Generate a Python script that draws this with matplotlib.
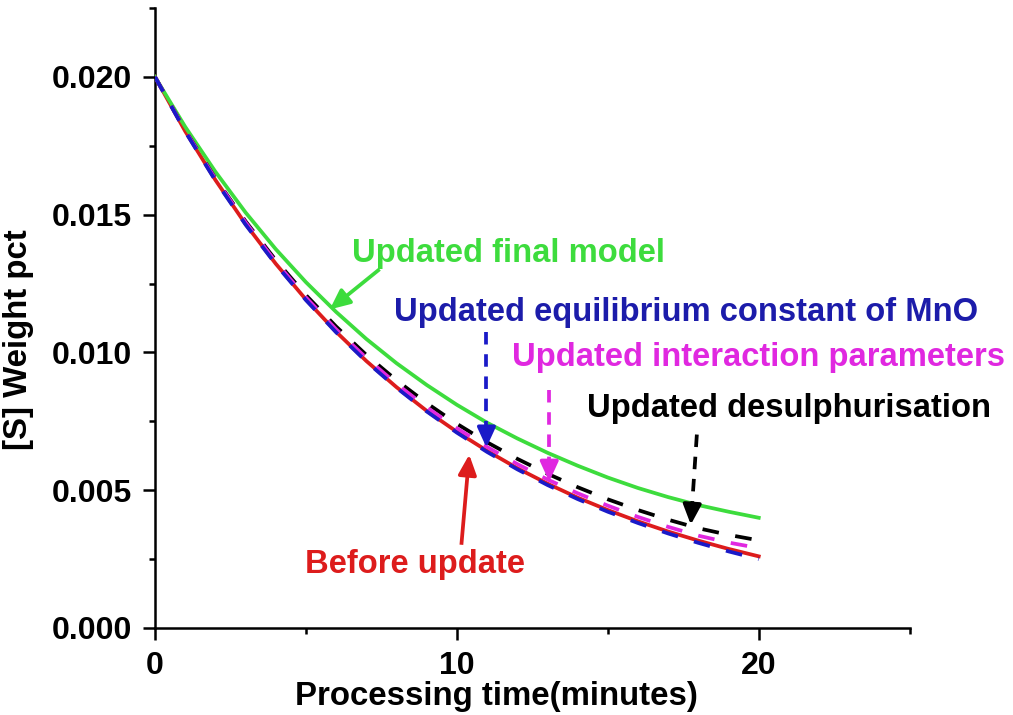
import matplotlib
matplotlib.use("Agg")
import matplotlib.pyplot as plt
from matplotlib.ticker import MultipleLocator, FormatStrFormatter

# Processing time (minutes)
time_min = [0, 1, 2, 3, 4, 5, 6, 7, 8, 9, 10, 11, 12, 13, 14, 15, 16, 17, 18, 19, 20]

# Sulphur content [S] (weight pct) for each model variant
before_update = [0.02000, 0.01803, 0.01626, 0.01466, 0.01322, 0.01192, 0.01075, 0.00969,
                 0.00874, 0.00788, 0.00712, 0.00643, 0.00580, 0.00524, 0.00473, 0.00428,
                 0.00387, 0.00350, 0.00317, 0.00287, 0.00260]
updated_mno = [0.02000, 0.01802, 0.01624, 0.01464, 0.01320, 0.01190, 0.01073, 0.00967,
               0.00872, 0.00786, 0.00709, 0.00639, 0.00576, 0.00519, 0.00468, 0.00422,
               0.00381, 0.00343, 0.00309, 0.00278, 0.00250]
updated_interaction = [0.02000, 0.01805, 0.01630, 0.01472, 0.01329, 0.01200, 0.01084, 0.00980,
                       0.00886, 0.00801, 0.00725, 0.00657, 0.00595, 0.00539, 0.00489, 0.00444,
                       0.00403, 0.00367, 0.00335, 0.00310, 0.00290]
updated_desulph = [0.02000, 0.01806, 0.01632, 0.01476, 0.01335, 0.01208, 0.01094, 0.00991,
                   0.00899, 0.00816, 0.00741, 0.00674, 0.00614, 0.00560, 0.00511, 0.00467,
                   0.00428, 0.00393, 0.00362, 0.00338, 0.00318]
updated_final = [0.02000, 0.01819, 0.01656, 0.01508, 0.01375, 0.01255, 0.01147, 0.01049,
                 0.00961, 0.00882, 0.00810, 0.00745, 0.00688, 0.00636, 0.00589, 0.00546,
                 0.00508, 0.00475, 0.00446, 0.00422, 0.00400]

x_ticks = [0, 10, 20]
y_ticks = [0.000, 0.005, 0.010, 0.015, 0.020]

RED = "#dd1c1c"
GREEN = "#3ddc3d"
BLUE = "#1a1ac8"
BLUE_TXT = "#1c1caa"
MAGENTA = "#e028e0"
BLACK = "#000000"

plt.rcParams["font.family"] = ["Liberation Sans", "DejaVu Sans"]
plt.rcParams["font.weight"] = "bold"
plt.rcParams["lines.scale_dashes"] = False

fig = plt.figure(figsize=(10.13, 7.15), dpi=100)
ax = fig.add_axes([0.153, 0.1217, 0.745, 0.8671])

lw = 2.7
dash = (0, (12, 12))
ax.plot(time_min, before_update, color=RED, lw=lw, zorder=3)
ax.plot(time_min, updated_final, color=GREEN, lw=lw, zorder=3)
ax.plot(time_min, updated_desulph, color=BLACK, lw=lw, linestyle=dash, zorder=4)
ax.plot(time_min, updated_interaction, color=MAGENTA, lw=lw, linestyle=dash, zorder=5)
ax.plot(time_min, updated_mno, color=BLUE, lw=lw, linestyle=dash, zorder=6)

ax.set_xlim(0, 25)
ax.set_ylim(0, 0.0225)
ax.set_xticks(x_ticks)
ax.set_yticks(y_ticks)
ax.xaxis.set_minor_locator(MultipleLocator(5))
ax.yaxis.set_minor_locator(MultipleLocator(0.0025))
ax.yaxis.set_major_formatter(FormatStrFormatter("%.3f"))

for side in ("top", "right"):
    ax.spines[side].set_visible(False)
for side in ("left", "bottom"):
    ax.spines[side].set_linewidth(1.8)
ax.tick_params(which="major", direction="out", length=8.5, width=1.8,
               labelsize=23, pad=8)
ax.tick_params(which="minor", direction="out", length=4.5, width=1.8)
for lab in ax.get_xticklabels() + ax.get_yticklabels():
    lab.set_fontweight("bold")

ax.set_xlabel("Processing time(minutes)", fontsize=23.8, fontweight="bold")
ax.set_ylabel("[S] Weight pct", fontsize=23.8, fontweight="bold")
ax.xaxis.set_label_coords(0.452, -0.085)
ax.yaxis.set_label_coords(-0.16, 0.465)

txt = dict(fontsize=23.6, fontweight="bold", ha="left", va="baseline", zorder=7)
ax.text(6.51, 0.01327, "Updated final model", color=GREEN, **txt)
ax.text(7.93, 0.01113, "Updated equilibrium constant of MnO", color=BLUE_TXT, **txt)
ax.text(11.83, 0.00949, "Updated interaction parameters", color=MAGENTA, **txt)
ax.text(14.31, 0.00767, "Updated desulphurisation", color=BLACK, **txt)
ax.text(4.96, 0.00200, "Before update", color=RED, **txt)


def pointer(x0, y0, x1, y1, color, dashed):
    """Draw a shaft from (x0, y0) with a solid head ending at (x1, y1)."""
    head = 0.18  # fraction of the arrow occupied by the head
    xm = x1 - (x1 - x0) * head
    ym = y1 - (y1 - y0) * head
    ax.plot([x0, xm], [y0, ym], color=color, lw=lw,
            linestyle=(0, (9, 7)) if dashed else "-", zorder=8,
            solid_capstyle="butt")
    ax.annotate("", xy=(x1, y1), xytext=(xm, ym),
                arrowprops=dict(arrowstyle="-|>,head_length=1.2,head_width=0.55",
                                color=color, lw=lw, shrinkA=0, shrinkB=0),
                zorder=8)


pointer(7.44, 0.01302, 5.79, 0.01156, GREEN, False)
pointer(10.98, 0.01073, 10.98, 0.00655, BLUE, True)
pointer(13.06, 0.00865, 13.06, 0.00531, MAGENTA, True)
pointer(17.95, 0.00702, 17.75, 0.00375, BLACK, True)
pointer(10.15, 0.00302, 10.41, 0.00629, RED, False)

fig.savefig("out.png", dpi=100)
